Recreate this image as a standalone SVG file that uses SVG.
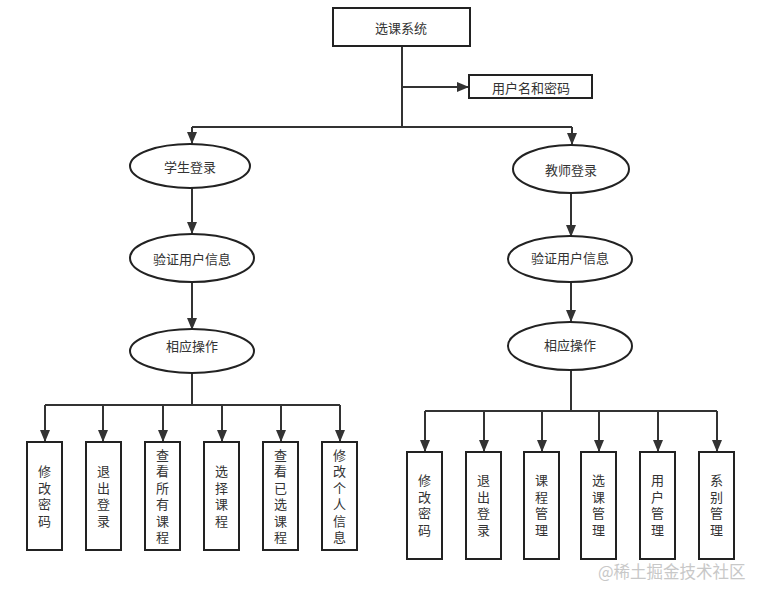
<svg xmlns="http://www.w3.org/2000/svg" width="765" height="598" viewBox="0 0 765 598">
<style>
.box{fill:#fff;stroke:#222;stroke-width:2}
.t{font-family:"Noto Sans CJK SC","Liberation Sans",sans-serif;font-size:13px;fill:#333;text-anchor:middle;dominant-baseline:central}
.v{font-family:"Noto Sans CJK SC","Liberation Sans",sans-serif;font-size:13px;fill:#333;writing-mode:vertical-rl;text-orientation:upright;letter-spacing:3.5px;text-anchor:middle;dominant-baseline:central}
.ln{fill:none;stroke:#333;stroke-width:2}
.wm{font-family:"Noto Sans CJK SC",sans-serif;font-size:16.5px;fill:#c8c8c8}
</style>
<defs>
<marker id="ar" markerUnits="userSpaceOnUse" markerWidth="12" markerHeight="10" refX="12" refY="5" orient="auto">
<path d="M0,0 L12,5 L0,10 z" fill="#333"/>
</marker>
</defs>
<rect width="765" height="598" fill="#fff"/>
<g id="connectors">
<path class="ln" d="M402,46 V127"/>
<path class="ln" d="M402,87 H469" marker-end="url(#ar)"/>
<path class="ln" d="M192,127 H572"/>
<path class="ln" d="M192,127 V144" marker-end="url(#ar)"/>
<path class="ln" d="M572,127 V145" marker-end="url(#ar)"/>
<path class="ln" d="M192,188 V234" marker-end="url(#ar)"/>
<path class="ln" d="M192,282 V330" marker-end="url(#ar)"/>
<path class="ln" d="M571,193 V237" marker-end="url(#ar)"/>
<path class="ln" d="M571,282 V322" marker-end="url(#ar)"/>
<path class="ln" d="M192,373 V405 M45,405 H340"/>
<path class="ln" d="M45,405 V442" marker-end="url(#ar)"/>
<path class="ln" d="M103,405 V442" marker-end="url(#ar)"/>
<path class="ln" d="M163,405 V442" marker-end="url(#ar)"/>
<path class="ln" d="M222,405 V442" marker-end="url(#ar)"/>
<path class="ln" d="M281,405 V442" marker-end="url(#ar)"/>
<path class="ln" d="M340,405 V442" marker-end="url(#ar)"/>
<path class="ln" d="M571,370 V411 M425,411 H717"/>
<path class="ln" d="M425,411 V452" marker-end="url(#ar)"/>
<path class="ln" d="M484,411 V452" marker-end="url(#ar)"/>
<path class="ln" d="M542,411 V452" marker-end="url(#ar)"/>
<path class="ln" d="M599,411 V452" marker-end="url(#ar)"/>
<path class="ln" d="M658,411 V452" marker-end="url(#ar)"/>
<path class="ln" d="M717,411 V452" marker-end="url(#ar)"/>
</g>
<g id="root"><rect class="box" x="333" y="8" width="137" height="38"/><text class="t" x="401" y="27">选课系统</text></g>
<g id="cred"><rect class="box" x="469" y="75" width="123" height="23"/><text class="t" x="531" y="87">用户名和密码</text></g>
<g id="s1"><ellipse class="box" cx="190" cy="166" rx="60" ry="22"/><text class="t" x="190" y="166">学生登录</text></g>
<g id="s2"><ellipse class="box" cx="192" cy="258" rx="62" ry="24"/><text class="t" x="192" y="258">验证用户信息</text></g>
<g id="s3"><ellipse class="box" cx="192" cy="351" rx="62" ry="22"/><text class="t" x="192" y="345">相应操作</text></g>
<g id="t1"><ellipse class="box" cx="571" cy="169" rx="58" ry="24"/><text class="t" x="571" y="169">教师登录</text></g>
<g id="t2"><ellipse class="box" cx="570" cy="259" rx="62" ry="23"/><text class="t" x="570" y="257">验证用户信息</text></g>
<g id="t3"><ellipse class="box" cx="570" cy="346" rx="62" ry="24"/><text class="t" x="570" y="344">相应操作</text></g>
<g id="l1"><rect class="box" x="27" y="442" width="35" height="108"/><text class="v" x="44.5" y="498">修改密码</text></g>
<g id="l2"><rect class="box" x="86" y="442" width="35" height="108"/><text class="v" x="103.5" y="498">退出登录</text></g>
<g id="l3"><rect class="box" x="145" y="442" width="35" height="108"/><text class="v" x="162.5" y="498">查看所有课程</text></g>
<g id="l4"><rect class="box" x="204" y="442" width="35" height="108"/><text class="v" x="221.5" y="498">选择课程</text></g>
<g id="l5"><rect class="box" x="263" y="442" width="35" height="108"/><text class="v" x="280.5" y="498">查看已选课程</text></g>
<g id="l6"><rect class="box" x="322" y="442" width="35" height="108"/><text class="v" x="339.5" y="498">修改个人信息</text></g>
<g id="r1"><rect class="box" x="407" y="452" width="35" height="107"/><text class="v" x="424.5" y="507">修改密码</text></g>
<g id="r2"><rect class="box" x="466" y="452" width="35" height="107"/><text class="v" x="483.5" y="507">退出登录</text></g>
<g id="r3"><rect class="box" x="524" y="452" width="35" height="107"/><text class="v" x="541.5" y="507">课程管理</text></g>
<g id="r4"><rect class="box" x="581" y="452" width="35" height="107"/><text class="v" x="598.5" y="507">选课管理</text></g>
<g id="r5"><rect class="box" x="640" y="452" width="35" height="107"/><text class="v" x="657.5" y="507">用户管理</text></g>
<g id="r6"><rect class="box" x="699" y="452" width="35" height="107"/><text class="v" x="716.5" y="507">系别管理</text></g>
<text class="wm" x="598" y="578">@稀土掘金技术社区</text>
</svg>
